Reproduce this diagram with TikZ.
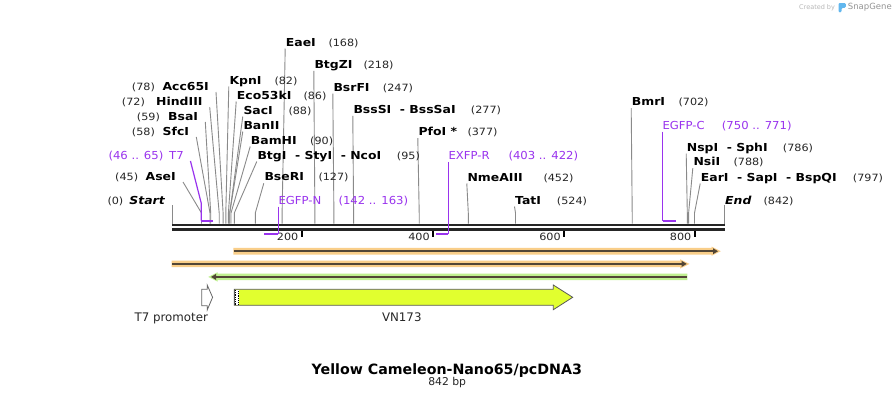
\documentclass[tikz,border=0pt]{standalone}
\usepackage{fontspec}
\setmainfont{DejaVu Sans}
\newfontfamily\labf{DejaVu Sans}[FakeStretch=1.13]
\newfontfamily\numf{DejaVu Sans}[FakeStretch=1.12]
\newfontfamily\prf{DejaVu Sans}[FakeStretch=1.06]
\usetikzlibrary{calc}
\definecolor{sitegray}{HTML}{8A8A8A}
\definecolor{prim}{HTML}{9933EE}
\definecolor{barc}{HTML}{262626}
\definecolor{numc}{HTML}{262626}
\definecolor{orhalo}{HTML}{F9CE89}
\definecolor{grhalo}{HTML}{C0F090}
\definecolor{featdark}{HTML}{524636}
\definecolor{vnfill}{HTML}{E1FF2F}
\definecolor{snapblue}{HTML}{62B7EE}
\tikzset{
 lab/.style={inner sep=0pt, text=black, font=\labf\bfseries\fontsize{11}{13}\selectfont},
 num/.style={inner sep=0pt, text=numc, font=\numf\fontsize{10}{12}\selectfont},
 plab/.style={inner sep=0pt, text=prim, font=\prf\fontsize{11}{13}\selectfont},
 flab/.style={inner sep=0pt, text=numc, font=\fontsize{11.8}{14}\selectfont},
 siteline/.style={draw=sitegray, line width=0.9pt},
 primline/.style={draw=prim, line width=1.2pt},
 primbar/.style={draw=prim, line width=2pt},
 barline/.style={draw=barc, line width=2.6pt},
 tickmark/.style={draw=black, line width=1.7pt},
}
% right-hand label: id, site x, label x, baseline, name, number, number x
\newcommand\siteR[7]{%
 \coordinate (#1-s) at (#2,223.7);
 \coordinate (#1-b) at (#2,213);
 \node[lab,anchor=base west] (#1) at (#3,#4) {#5};
 \node[num,anchor=base west] (#1-n) at (#7,#4) {#6};
 \draw[siteline] ($(#1.base west)+(-0.5,2.5)$) -- (#1-b) -- (#1-s);
}
% left-hand label: id, site x, label right x, baseline, name, number, number x
\newcommand\siteL[7]{%
 \coordinate (#1-s) at (#2,223.7);
 \coordinate (#1-b) at (#2,213);
 \node[lab,anchor=base east] (#1) at (#3,#4) {#5};
 \node[num,anchor=base west] (#1-n) at (#7,#4) {#6};
 \draw[siteline] ($(#1.base east)+(7,1.3)$) -- (#1-b) -- (#1-s);
}
% forward feature: y, x0, xtip, halo colour
\newcommand\featFwd[4]{%
 \fill[#4] (#2,#1-3.3) -- (#3-6.5,#1-3.3) -- (#3-6.5,#1-4.6) -- (#3+2.8,#1) -- (#3-6.5,#1+4.6) -- (#3-6.5,#1+3.3) -- (#2,#1+3.3) -- cycle;
 \draw[featdark, line width=2.2pt] (#2+0.6,#1) -- (#3-4.5,#1);
 \fill[featdark] (#3-5,#1-3) -- (#3,#1) -- (#3-5,#1+3) -- cycle;
}
% reverse feature: y, xtip, x1, halo colour
\newcommand\featRev[4]{%
 \fill[#4] (#3,#1-3.3) -- (#2+6.5,#1-3.3) -- (#2+6.5,#1-4.6) -- (#2-2.8,#1) -- (#2+6.5,#1+4.6) -- (#2+6.5,#1+3.3) -- (#3,#1+3.3) -- cycle;
 \draw[featdark, line width=2.2pt] (#3-0.6,#1) -- (#2+4.5,#1);
 \fill[featdark] (#2+5,#1-3) -- (#2,#1) -- (#2+5,#1+3) -- cycle;
}
\begin{document}
\begin{tikzpicture}[x=1pt,y=-1pt]
\useasboundingbox (0,0) rectangle (896,400);
\fill[white] (0,0) rectangle (896,400);

% logo
\node[inner sep=0pt, anchor=west, text=black!28, font=\fontsize{6.5}{8}\selectfont] (created) at (799,7.5) {Created by};
\fill[snapblue, rounded corners=1.2pt] (838.5,3) -- (845.8,3) -- (845.8,7.8) -- (841.6,7.8) -- (841.6,12.3) -- (838.5,12.3) -- cycle;
\node[inner sep=0pt, anchor=west, text=black!42, font=\fontsize{8.5}{10}\selectfont] (snapgene) at (847.7,7.5) {SnapGene};

% restriction sites, right-hand labels
\siteR{eae}{282.1}{285.7}{46}{EaeI}{(168)}{328.3}
\siteR{btgz}{314.9}{314.3}{68.3}{BtgZI}{(218)}{363.3}
\siteR{bsrf}{333.9}{333.3}{91}{BsrFI}{(247)}{382.7}
\siteR{bsss}{353.6}{353.3}{113.3}{BssSI~~- BssSaI}{(277)}{470.7}
\siteR{pfo}{419.2}{418.3}{135.7}{PfoI *}{(377)}{467.3}
\siteR{nme}{468.3}{467.3}{181}{NmeAIII}{(452)}{543.3}
\siteR{tat}{515.5}{515}{204}{TatI}{(524)}{556.7}
\siteR{bmr}{632.2}{631.7}{105.7}{BmrI}{(702)}{678.3}
\siteR{nsp}{687.3}{686.7}{151}{NspI~~- SphI}{(786)}{782.7}
\siteR{nsi}{688.6}{693.3}{165.7}{NsiI}{(788)}{733.3}
\siteR{ear}{694.5}{700.7}{181}{EarI~~- SapI~~- BspQI}{(797)}{852.7}
\siteR{kpn}{225.8}{229.3}{84}{KpnI}{(82)}{274.3}
\siteR{eco}{228.4}{236.7}{99}{Eco53kI}{(86)}{303.3}
\siteR{sac}{229.7}{243.3}{114}{SacI}{(88)}{288.3}
\siteR{bam}{231.0}{250.7}{144}{BamHI}{(90)}{310}
\siteR{btg}{234.3}{257.3}{159}{BtgI~~- StyI~~- NcoI}{(95)}{396.7}
\siteR{bse}{255.3}{264.3}{180.7}{BseRI}{(127)}{318.3}
% BanII (no number)
\coordinate (ban-s) at (229.7,223.7);
\coordinate (ban-b) at (229.7,213);
\node[lab,anchor=base west] (ban) at (243.3,129) {BanII};
\draw[siteline] ($(ban.base west)+(-0.5,2.5)$) -- (ban-b) -- (ban-s);

% restriction sites, left-hand labels
\siteL{acc}{223.1}{209}{90.7}{Acc65I}{(78)}{131.7}
\siteL{hind}{219.2}{202.7}{105.7}{HindIII}{(72)}{121.7}
\siteL{bsa}{210.7}{198.3}{120.7}{BsaI}{(59)}{136.7}
\siteL{sfc}{210.0}{189.3}{135.7}{SfcI}{(58)}{131.7}
\siteL{ase}{201.5}{176}{180.7}{AseI}{(45)}{115}

% start / end
\coordinate (start-s) at (172,223.7);
\coordinate (start-t) at (172,205);
\node[lab,anchor=base east] (start) at (165,204) {\itshape Start};
\node[num,anchor=base west] (start-n) at (107.3,204) {(0)};
\draw[siteline] (start-t) -- (start-s);
\coordinate (end-s) at (724.3,223.7);
\coordinate (end-t) at (724.3,205);
\node[lab,anchor=base west] (end) at (725,204) {\itshape End};
\node[num,anchor=base west] (end-n) at (763.3,204) {(842)};
\draw[siteline] (end-t) -- (end-s);

% sequence bar
\draw[barline] (172,225) -- (724.5,225);
\draw[barline] (172,229.3) -- (724.5,229.3);

% ticks
\foreach \t/\lab in {301.8/200, 433.2/400, 564.2/600, 694.8/800} {
  \draw[tickmark] (\t,230.5) -- (\t,237.3);
  \node[num,anchor=base east] (tick\lab) at (\t-3.3,240) {\lab};
}

% primers
\node[plab,anchor=base west] (t7) at (169,159) {T7};
\node[plab,anchor=base west] (t7-n) at (108.3,159) {(46 .. 65)};
\coordinate (t7-b) at (201.2,203);
\coordinate (t7-c) at (201.2,220.7);
\coordinate (t7-d) at (212.7,220.7);
\draw[primline] ($(t7.base east)+(6.5,2)$) -- (t7-b) -- (t7-c);
\draw[primbar] (t7-c) -- (t7-d);

\node[plab,anchor=base west] (egfpn) at (278.3,204) {EGFP-N};
\node[plab,anchor=base west] (egfpn-n) at (338.3,204) {(142 .. 163)};
\coordinate (egfpn-c) at (278.3,234);
\coordinate (egfpn-d) at (264.3,234);
\draw[primline] ($(egfpn.base west)+(0,2.5)$) -- (egfpn-c);
\draw[primbar] (egfpn-c) -- (egfpn-d);

\node[plab,anchor=base west] (exfpr) at (448.3,159.3) {EXFP-R};
\node[plab,anchor=base west] (exfpr-n) at (508.3,159.3) {(403 .. 422)};
\coordinate (exfpr-c) at (448.3,234);
\coordinate (exfpr-d) at (435.7,234);
\draw[primline] ($(exfpr.base west)+(0,2.5)$) -- (exfpr-c);
\draw[primbar] (exfpr-c) -- (exfpr-d);

\node[plab,anchor=base west] (egfpc) at (662.3,129) {EGFP-C};
\node[plab,anchor=base west] (egfpc-n) at (721.7,129) {(750 .. 771)};
\coordinate (egfpc-c) at (662.7,220.7);
\coordinate (egfpc-d) at (675.7,220.7);
\draw[primline] ($(egfpc.base west)+(0.4,2.5)$) -- (egfpc-c);
\draw[primbar] (egfpc-c) -- (egfpc-d);

% features
\featFwd{251.2}{233.3}{718}{orhalo}
\featFwd{263.9}{171.7}{686.7}{orhalo}
\featRev{276.9}{211}{687.3}{grhalo}

% T7 promoter
\draw[fill=white, draw=black!60, line width=0.8pt] (201.7,289.3) -- (207.2,289.3) -- (207.2,285) -- (212.6,297.3) -- (207.2,310) -- (207.2,305.7) -- (201.7,305.7) -- cycle;
\node[flab,anchor=base] (t7prom) at (171.3,321.7) {T7 promoter};

% VN173
\draw[fill=vnfill, draw=black!65, line width=0.8pt] (234.3,289.3) -- (553.3,289.3) -- (553.3,285) -- (572.7,297.3) -- (553.3,309.7) -- (553.3,305.3) -- (234.3,305.3) -- cycle;
\fill[white] (234.7,289.8) rectangle (239.3,304.8);
\draw[black, line width=0.9pt, dash pattern=on 0.9pt off 0.9pt] (235.8,290) -- (235.8,305);
\draw[black, line width=0.9pt, dash pattern=on 0.9pt off 0.9pt] (238,290.9) -- (238,305);
\draw[black!65, line width=0.8pt] (234.3,289.3) -- (234.3,305.3);
\node[flab,anchor=base] (vn) at (401.8,321.7) {VN173};

% title
\node[inner sep=0pt, anchor=base, text=black, font=\bfseries\fontsize{14.2}{17}\selectfont] (title) at (446.8,374) {Yellow Cameleon-Nano65/pcDNA3};
\node[inner sep=0pt, anchor=base, text=numc, font=\fontsize{10.8}{13}\selectfont] (bp) at (447.2,385) {842 bp};
\end{tikzpicture}
\end{document}
